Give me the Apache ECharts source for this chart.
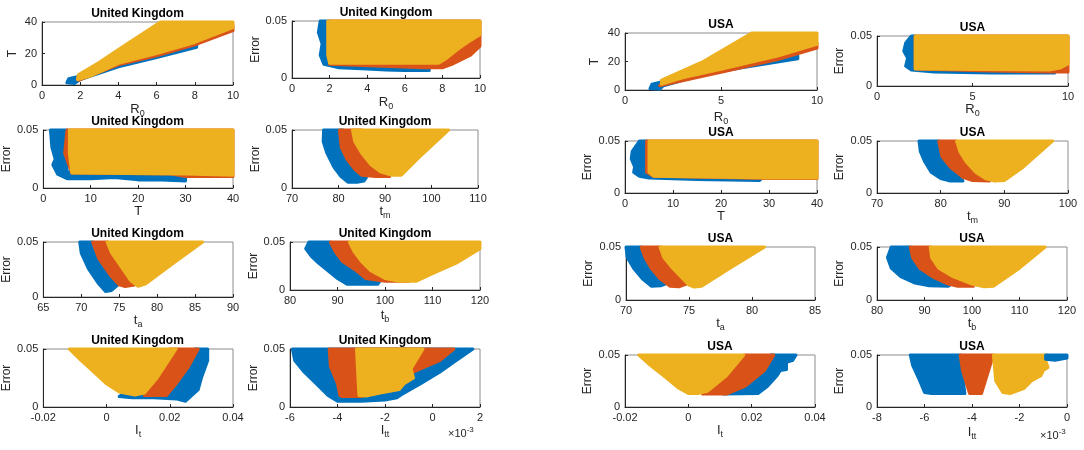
<!DOCTYPE html>
<html>
<head>
<meta charset="utf-8">
<title></title>
<script src="https://cdn.jsdelivr.net/npm/echarts@6/dist/echarts.min.js"></script>
<style>html,body{margin:0;padding:0;background:#fff;}</style>
</head>
<body>
<div id="my" style="width:1084px;height:450px;"></div>
<script>
var myChart = echarts.init(document.getElementById('my'));

var BLUE = '#0072BD', RED = '#D95319', YELLOW = '#EDB120';

// outlines of the three point clouds in every panel, [x, y]
// ---- United Kingdom ----
var ukR0T_blue   = [[1.3,1.5],[1.4,4],[1.9,5.5],[4,13],[6,19],[8.1,26],[8.1,24],[6,17.5],[4,11.5],[2,3.5],[1.7,1]];
var ukR0T_red    = [[1.9,3],[4,12.8],[6,18.5],[8,25.5],[10,34.5],[10,38],[2,5]];
var ukR0T_yellow = [[1.85,3.5],[1.9,6.5],[3,14.5],[4,22.5],[5,30.5],[6.2,40],[10,40],[10,36.5],[8,27],[6,20],[4,13.8],[2.5,5.5]];

var ukR0Err_blue   = [[1.5,0.05],[1.4,0.04],[1.6,0.03],[1.5,0.02],[1.7,0.012],[2.5,0.009],[4,0.008],[5,0.007],[6,0.0065],[7.3,0.0065],[7.3,0.012],[2,0.02],[2,0.05]];
var ukR0Err_red    = [[2,0.05],[10,0.05],[10,0.028],[9.5,0.02],[8.5,0.012],[8,0.009],[7,0.009],[2,0.012]];
var ukR0Err_yellow = [[1.9,0.05],[10,0.05],[10,0.038],[9.5,0.033],[8.8,0.025],[8.2,0.017],[7.8,0.013],[2,0.013],[1.9,0.02]];

var ukTErr_blue   = [[1.5,0.05],[1.8,0.035],[2.5,0.025],[2,0.02],[3,0.012],[5,0.008],[10,0.008],[15,0.009],[20,0.007],[25,0.007],[30,0.006],[30,0.012],[5,0.014],[5,0.05]];
var ukTErr_red    = [[5,0.05],[40,0.05],[40,0.01],[30,0.01],[27,0.012],[6,0.013],[4.5,0.03]];
var ukTErr_yellow = [[5.5,0.05],[40,0.05],[40,0.011],[30,0.012],[6,0.013],[5.5,0.03]];

var ukTmErr_blue   = [[76.8,0.05],[76.7,0.04],[77.5,0.03],[79,0.018],[80.5,0.01],[82,0.005],[84,0.005],[85.5,0.006],[86,0.009],[81,0.05]];
var ukTmErr_red    = [[80.2,0.05],[80.6,0.035],[81.8,0.025],[83.5,0.016],[85,0.011],[88,0.01],[91,0.01],[85,0.05]];
var ukTmErr_yellow = [[83,0.05],[83.5,0.04],[85,0.03],[87,0.02],[89,0.014],[91.5,0.011],[93.5,0.011],[97,0.025],[103.7,0.05]];

var ukTaErr_blue   = [[69.8,0.05],[70,0.04],[71,0.025],[72.3,0.012],[73.2,0.005],[74,0.006],[75,0.012],[72.5,0.03],[71.5,0.05]];
var ukTaErr_red    = [[71.5,0.05],[72.3,0.035],[73.8,0.02],[75,0.011],[75.8,0.0095],[77,0.011],[75,0.03],[73.5,0.05]];
var ukTaErr_yellow = [[73.4,0.05],[74,0.04],[75,0.03],[76.5,0.015],[77.5,0.0098],[78.5,0.012],[82,0.03],[86,0.05]];

var ukTbErr_blue   = [[84,0.05],[83.3,0.043],[84.5,0.035],[86,0.028],[88,0.02],[90,0.012],[92,0.006],[95,0.006],[98.5,0.006],[99,0.01],[93,0.02],[88.5,0.05]];
var ukTbErr_red    = [[88.5,0.05],[89.5,0.04],[91,0.03],[94,0.02],[96,0.012],[100,0.009],[105,0.009],[98,0.03],[92.5,0.05]];
var ukTbErr_yellow = [[92.5,0.05],[120,0.05],[120,0.043],[115,0.028],[110,0.017],[106.5,0.009],[103,0.009],[100,0.012],[97,0.02],[95,0.03],[93.5,0.04]];

var ukItErr_blue   = [[0.028,0.05],[0.032,0.05],[0.032,0.04],[0.03,0.025],[0.029,0.015],[0.027,0.01],[0.025,0.005],[0.022,0.007],[0.015,0.008],[0.008,0.008],[0.004,0.009],[0.005,0.011],[0.02,0.012],[0.026,0.035]];
var ukItErr_red    = [[0.02,0.05],[0.029,0.05],[0.026,0.035],[0.022,0.02],[0.019,0.01],[0.012,0.01],[0.015,0.03]];
var ukItErr_yellow = [[-0.0118,0.05],[-0.008,0.04],[-0.004,0.03],[0,0.02],[0.004,0.013],[0.009,0.0103],[0.012,0.012],[0.016,0.025],[0.022,0.05]];

// I_tt in units of 1e-3
var ukIttErr_blue   = [[-5.9,0.05],[-5.8,0.04],[-5.4,0.03],[-4.9,0.02],[-4.4,0.01],[-4,0.005],[-3,0.005],[-2,0.006],[-1.5,0.008],[-1.2,0.012],[-0.5,0.02],[0.3,0.03],[1,0.04],[1.7,0.05]];
var ukIttErr_red    = [[-4.35,0.05],[-4.3,0.035],[-4,0.02],[-3.9,0.01],[-3.8,0.009],[-3,0.009],[-0.6,0.032],[0.3,0.04],[0.9,0.05]];
var ukIttErr_yellow = [[-3.2,0.05],[-0.4,0.05],[-0.7,0.04],[-0.9,0.033],[-0.8,0.025],[-1.2,0.02],[-1.4,0.015],[-2.2,0.012],[-2.8,0.0095],[-3.1,0.01]];

// ---- USA ----
var usR0T_blue   = [[1.3,1],[1.4,4],[2,6],[5,14],[8,21],[9,24],[9,22],[6,15.5],[4,10.5],[2,3],[1.8,0.5]];
var usR0T_red    = [[1.8,3],[5,12.5],[8,21.5],[10,29.5],[10,33],[2,6]];
var usR0T_yellow = [[1.9,4],[1.9,7],[4,19.5],[6.6,40],[10,40],[10,32],[8,24],[5,14.5],[3,8.5],[2,4.5]];

var usR0Err_blue   = [[1.8,0.05],[1.5,0.043],[1.4,0.035],[1.6,0.028],[1.5,0.02],[1.8,0.016],[3,0.014],[6,0.013],[9.3,0.013],[9.3,0.016],[2,0.018],[2,0.05]];
var usR0Err_red    = [[2,0.05],[10,0.05],[10,0.014],[9,0.014],[6,0.015],[2,0.017]];
var usR0Err_yellow = [[2,0.05],[10,0.05],[10,0.022],[9.6,0.018],[9,0.016],[2,0.017]];

var usTErr_blue   = [[3,0.05],[1.5,0.04],[1.3,0.033],[2,0.025],[1.8,0.02],[3,0.016],[5,0.0145],[15,0.013],[28,0.012],[28.5,0.014],[5,0.016],[4.5,0.05]];
var usTErr_red    = [[4.5,0.05],[40,0.05],[40,0.014],[30,0.014],[6,0.016],[4.5,0.02]];
var usTErr_yellow = [[5,0.05],[40,0.05],[40,0.0145],[30,0.0145],[6,0.016],[5,0.02]];

var usTmErr_blue   = [[76.6,0.05],[76.8,0.04],[77.5,0.03],[78.5,0.02],[80,0.014],[81.5,0.0115],[83.5,0.0115],[81,0.03],[79.7,0.05]];
var usTmErr_red    = [[79.7,0.05],[80.2,0.035],[81.5,0.025],[83.5,0.015],[85,0.012],[87.7,0.0115],[85,0.03],[82.5,0.05]];
var usTmErr_yellow = [[82.5,0.05],[83,0.04],[84,0.03],[85.5,0.02],[87,0.014],[88.5,0.0115],[90,0.012],[93,0.025],[97.6,0.05]];

var usTaErr_blue   = [[70,0.05],[70.1,0.04],[70.6,0.03],[71.3,0.02],[72,0.013],[72.8,0.0135],[73.3,0.016],[71.2,0.05]];
var usTaErr_red    = [[71.2,0.05],[71.5,0.04],[72,0.03],[72.7,0.02],[73.5,0.013],[74.2,0.0125],[74.8,0.015],[73.5,0.03],[72.8,0.05]];
var usTaErr_yellow = [[72.7,0.05],[73,0.04],[73.7,0.03],[74.5,0.02],[75,0.014],[75.4,0.0122],[76,0.013],[78,0.028],[81,0.05]];

var usTbErr_blue   = [[83,0.05],[82.2,0.04],[83,0.03],[85,0.022],[88,0.016],[91,0.0135],[95,0.013],[96,0.016],[87,0.05]];
var usTbErr_red    = [[87,0.05],[87.5,0.04],[89,0.03],[92,0.021],[95,0.015],[97,0.013],[100.3,0.013],[98,0.025],[91.3,0.05]];
var usTbErr_yellow = [[91.2,0.05],[91.5,0.04],[93,0.03],[96,0.022],[100,0.015],[102.5,0.0125],[104.5,0.013],[110,0.03],[115.4,0.05]];

var usItErr_blue   = [[0.026,0.05],[0.034,0.05],[0.033,0.045],[0.031,0.043],[0.031,0.036],[0.029,0.035],[0.028,0.03],[0.025,0.02],[0.022,0.013],[0.011,0.0125],[0.018,0.02],[0.024,0.035]];
var usItErr_red    = [[0.0175,0.05],[0.027,0.05],[0.024,0.035],[0.018,0.02],[0.012,0.0125],[0.0045,0.0125],[0.01,0.025]];
var usItErr_yellow = [[-0.0157,0.05],[-0.012,0.04],[-0.007,0.028],[-0.003,0.018],[0,0.013],[0.003,0.013],[0.006,0.015],[0.012,0.03],[0.0175,0.05]];

var usIttErr_blue   = [[-6.6,0.05],[-6.5,0.04],[-6.2,0.025],[-6,0.014],[-5.7,0.013],[-4.3,0.013],[-4.5,0.05]];
var usIttErr_blue2  = [[-0.9,0.05],[0,0.05],[0,0.047],[-0.5,0.045],[-0.9,0.046]];
var usIttErr_red    = [[-4.5,0.05],[-4.4,0.035],[-4.2,0.02],[-4.1,0.013],[-3.6,0.013],[-3.1,0.05]];
var usIttErr_yellow = [[-3.1,0.05],[-0.85,0.05],[-0.9,0.045],[-0.8,0.038],[-1,0.035],[-1.1,0.03],[-1.5,0.025],[-1.8,0.018],[-2.4,0.013],[-2.7,0.014],[-3,0.025]];

// tick values
var ticksR0a = [0,2,4,6,8,10];
var ticksR0b = [0,5,10];
var ticksT   = [0,10,20,30,40];
var ticksTy  = [0,20,40];
var ticksErr = [0,0.05];
var ticksTmUK = [70,80,90,100,110];
var ticksTmUS = [70,80,90,100];
var ticksTaUK = [65,70,75,80,85,90];
var ticksTaUS = [70,75,80,85];
var ticksTb  = [80,90,100,110,120];
var ticksIt  = [-0.02,0,0.02,0.04];
var ticksIttUK = [-6,-4,-2,0,2];
var ticksIttUS = [-8,-6,-4,-2,0];

// panel layout: box [left, top, width, height], x-name gap, y-name gap
var panels = [
  {t:'United Kingdom', box:[42,22,191,63],  xt:ticksR0a, yt:ticksTy,  xn:['R','0'], yn:'T',     xg:15, yg:23, clouds:[ukR0T_blue, ukR0T_red, ukR0T_yellow]},
  {t:'United Kingdom', box:[292,21,188,57], xt:ticksR0a, yt:ticksErr, xn:['R','0'], yn:'Error', xg:15, yg:28, clouds:[ukR0Err_blue, ukR0Err_red, ukR0Err_yellow]},
  {t:'United Kingdom', box:[42,130,191,58], xt:ticksT,   yt:ticksErr, xn:['T',''],  yn:'Error', xg:10, yg:28, clouds:[ukTErr_blue, ukTErr_red, ukTErr_yellow]},
  {t:'United Kingdom', box:[292,130,186,58],xt:ticksTmUK,yt:ticksErr, xn:['t','m'], yn:'Error', xg:12, yg:28, clouds:[ukTmErr_blue, ukTmErr_red, ukTmErr_yellow]},
  {t:'United Kingdom', box:[42,242,191,55], xt:ticksTaUK,yt:ticksErr, xn:['t','a'], yn:'Error', xg:14, yg:28, clouds:[ukTaErr_blue, ukTaErr_red, ukTaErr_yellow]},
  {t:'United Kingdom', box:[290,242,190,48],xt:ticksTb,  yt:ticksErr, xn:['t','b'], yn:'Error', xg:16, yg:28, clouds:[ukTbErr_blue, ukTbErr_red, ukTbErr_yellow]},
  {t:'United Kingdom', box:[42,349,191,58], xt:ticksIt,  yt:ticksErr, xn:['I','t'], yn:'Error', xg:10, yg:28, clouds:[ukItErr_blue, ukItErr_red, ukItErr_yellow]},
  {t:'United Kingdom', box:[290,349,190,58],xt:ticksIttUK,yt:ticksErr,xn:['I','tt'],yn:'Error', xg:13, yg:28, clouds:[ukIttErr_blue, ukIttErr_red, ukIttErr_yellow]},
  {t:'USA', box:[625,33,192,57],  xt:ticksR0b, yt:ticksTy,  xn:['R','0'], yn:'T',     xg:18, yg:24, clouds:[usR0T_blue, usR0T_red, usR0T_yellow]},
  {t:'USA', box:[877,36,191,50],  xt:ticksR0b, yt:ticksErr, xn:['R','0'], yn:'Error', xg:8,  yg:31, clouds:[usR0Err_blue, usR0Err_red, usR0Err_yellow]},
  {t:'USA', box:[625,141,192,52], xt:ticksT,   yt:ticksErr, xn:['T',''],  yn:'Error', xg:9,  yg:31, clouds:[usTErr_blue, usTErr_red, usTErr_yellow]},
  {t:'USA', box:[877,141,191,52], xt:ticksTmUS,yt:ticksErr, xn:['t','m'], yn:'Error', xg:13, yg:31, clouds:[usTmErr_blue, usTmErr_red, usTmErr_yellow]},
  {t:'USA', box:[626,247,189,53], xt:ticksTaUS,yt:ticksErr, xn:['t','a'], yn:'Error', xg:11, yg:31, clouds:[usTaErr_blue, usTaErr_red, usTaErr_yellow]},
  {t:'USA', box:[877,247,190,53], xt:ticksTb,  yt:ticksErr, xn:['t','b'], yn:'Error', xg:6,  yg:31, clouds:[usTbErr_blue, usTbErr_red, usTbErr_yellow]},
  {t:'USA', box:[625,355,190,52], xt:ticksIt,  yt:ticksErr, xn:['I','t'], yn:'Error', xg:14, yg:31, clouds:[usItErr_blue, usItErr_red, usItErr_yellow]},
  {t:'USA', box:[877,355,190,52], xt:ticksIttUS,yt:ticksErr,xn:['I','tt'],yn:'Error', xg:16, yg:31, clouds:[usIttErr_blue, usIttErr_red, usIttErr_yellow], extra:[usIttErr_blue2]}
];

var FONT = '"Liberation Sans", Arial, Helvetica, sans-serif';
var AXC = '#262626';

// draw one cloud outline as a filled polygon through the axis scales
function cloud(points, color){
  return function(params, api){
    if (params.dataIndex !== 0) return;
    var pts = points.map(function(p){ return api.coord(p); });
    return {
      type: 'polygon',
      shape: {points: pts},
      style: {fill: color, stroke: color, lineWidth: 3, lineJoin: 'round'}
    };
  };
}

var grid = [], xAxis = [], yAxis = [], series = [], graphic = [];
var colors = [BLUE, RED, YELLOW];

panels.forEach(function(p, i){
  var b = p.box;
  grid.push({left: b[0], top: b[1], width: b[2], height: b[3], show: true, borderColor: '#8c8c8c', borderWidth: 1, containLabel: false});
  xAxis.push({
    type: 'value', gridIndex: i,
    min: p.xt[0], max: p.xt[p.xt.length-1], interval: p.xt[1]-p.xt[0],
    axisLine: {onZero: false, lineStyle: {color: AXC, width: 1}},
    axisTick: {inside: true, length: 3, lineStyle: {color: AXC}},
    axisLabel: {color: AXC, fontSize: 11, fontFamily: FONT, margin: 5},
    splitLine: {show: false},
    name: '{m|' + p.xn[0] + '}' + (p.xn[1] ? '{s|' + p.xn[1] + '}' : ''),
    nameLocation: 'middle', nameGap: p.xg,
    nameTextStyle: {color: AXC, fontFamily: FONT, rich: {
      m: {fontSize: 13, fontFamily: FONT, color: AXC},
      s: {fontSize: 9, fontFamily: FONT, color: AXC, padding: [9,0,0,0]}
    }}
  });
  yAxis.push({
    type: 'value', gridIndex: i,
    min: p.yt[0], max: p.yt[p.yt.length-1], interval: p.yt[1]-p.yt[0],
    axisLine: {show: true, onZero: false, lineStyle: {color: AXC, width: 1}},
    axisTick: {show: true, inside: true, length: 3, lineStyle: {color: AXC}},
    axisLabel: {color: AXC, fontSize: 11, fontFamily: FONT, margin: 5},
    splitLine: {show: false},
    name: p.yn, nameLocation: 'middle', nameGap: p.yg, nameRotate: 90,
    nameTextStyle: {color: AXC, fontSize: 12, fontFamily: FONT}
  });
  p.clouds.forEach(function(pts, k){
    series.push({
      type: 'custom', xAxisIndex: i, yAxisIndex: i, silent: true, clip: false,
      data: pts, renderItem: cloud(pts, colors[k]), animation: false
    });
  });
  (p.extra || []).forEach(function(pts){
    series.push({
      type: 'custom', xAxisIndex: i, yAxisIndex: i, silent: true, clip: false,
      data: pts, renderItem: cloud(pts, BLUE), animation: false, z: 3
    });
  });
  // panel title, centred over the box
  graphic.push({
    type: 'text', x: b[0] + b[2]/2, y: b[1] - 8, z: 100,
    style: {text: p.t, fill: '#000', font: 'bold 12px ' + FONT, align: 'center', verticalAlign: 'middle'}
  });
});

// x10^-3 exponent labels of the I_tt panels
graphic.push({type: 'text', x: 448, y: 426, z: 100,
  style: {text: '{a|\u00d710}{b|-3}', fill: AXC, rich: {a: {fontSize: 11, fontFamily: FONT, fill: AXC}, b: {fontSize: 8, fontFamily: FONT, fill: AXC, padding: [0,0,7,0]}}}});
graphic.push({type: 'text', x: 1040, y: 428, z: 100,
  style: {text: '{a|\u00d710}{b|-3}', fill: AXC, rich: {a: {fontSize: 11, fontFamily: FONT, fill: AXC}, b: {fontSize: 8, fontFamily: FONT, fill: AXC, padding: [0,0,7,0]}}}});

var option = {
  animation: false,
  backgroundColor: '#fff',
  grid: grid,
  xAxis: xAxis,
  yAxis: yAxis,
  series: series,
  graphic: graphic
};

myChart.setOption(option);
</script>
</body>
</html>
